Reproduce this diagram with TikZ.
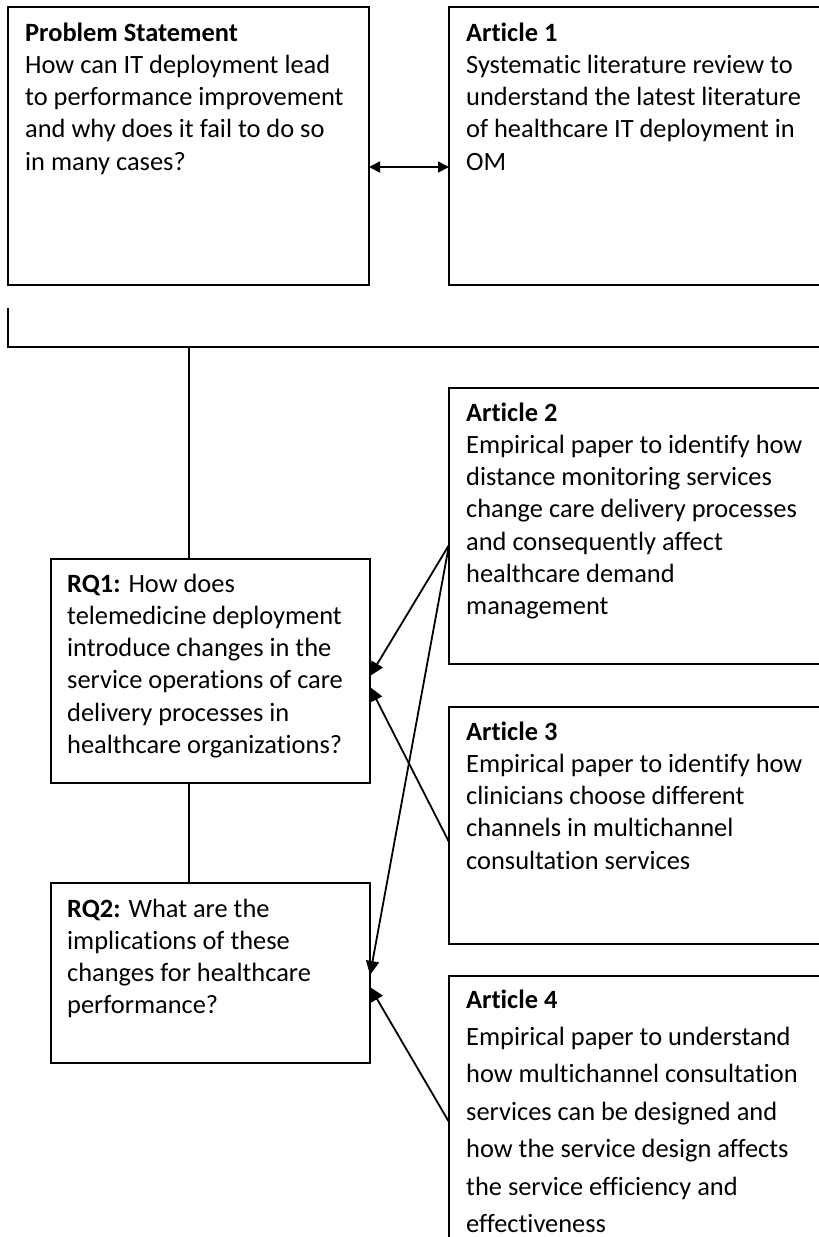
\documentclass[tikz,border=0pt]{standalone}
\usepackage{fontspec}
\setmainfont{Carlito}[Ligatures={NoCommon}]
\usetikzlibrary{arrows.meta}
\begin{document}
\begin{tikzpicture}[x=1pt,y=-1pt,
  box/.style={draw, line width=1.2pt, inner sep=0pt, outer sep=0pt, anchor=north west},
  % multi-line texts are placed by the baseline of their last line
  txt/.style={anchor=base west, align=left, inner sep=0pt, font=\fontsize{26.4}{32.3}\selectfont},
  wire/.style={line width=1.8pt},
  arr/.style={line width=1.8pt, -{Triangle[length=14pt,width=13pt]}},
  dbl/.style={line width=1.8pt, {Triangle[length=11pt,width=11pt]}-{Triangle[length=11pt,width=11pt]}}]
\useasboundingbox (0,0) rectangle (819,1237);

% frames
\node[box, minimum width=361pt, minimum height=278pt] (ps)  at (8,7) {};
\node[box, minimum width=380pt, minimum height=278pt] (a1)  at (449,7) {};
\node[box, minimum width=380pt, minimum height=276pt] (a2)  at (449,388) {};
\node[box, minimum width=380pt, minimum height=237pt] (a3)  at (449,707) {};
\node[box, minimum width=380pt, minimum height=300pt] (a4)  at (449,976) {};
\node[box, minimum width=319pt, minimum height=224pt] (rq1) at (51,559) {};
\node[box, minimum width=319pt, minimum height=180pt] (rq2) at (51,883) {};

% texts
\node[txt] (pst) at (25,170.2) {\textbf{Problem Statement}\\How can IT deployment lead\\to performance improvement\\and why does it fail to do so\\in many cases?};
\node[txt] (a1t) at (466,170.2) {\textbf{Article 1}\\Systematic literature review to\\understand the latest literature\\of healthcare IT deployment in\\OM};
\node[txt] (a2t) at (466,614.8) {\textbf{Article 2}\\Empirical paper to identify how\\distance monitoring services\\change care delivery processes\\and consequently affect\\healthcare demand\\management};
\node[txt] (rq1t) at (67,753.5) {\textbf{RQ1:} How does\\telemedicine deployment\\introduce changes in the\\service operations of care\\delivery processes in\\healthcare organizations?};
\node[txt] (a3t) at (466,869.2) {\textbf{Article 3}\\Empirical paper to identify how\\clinicians choose different\\channels in multichannel\\consultation services};
\node[txt] (rq2t) at (67,1013.9) {\textbf{RQ2:} What are the\\implications of these\\changes for healthcare\\performance?};
\node[txt, font=\fontsize{26.4}{37.4}\selectfont] (a4t) at (466,1232.4) {\textbf{Article 4}\\Empirical paper to understand\\how multichannel consultation\\services can be designed and\\how the service design affects\\the service efficiency and\\effectiveness};

% connectors
\coordinate (brk)  at (8,308);
\coordinate (rail) at (830,347);
\coordinate (junc) at (189,347);
\draw[wire] (brk) |- (rail);
\draw[wire] (junc) -- (junc |- rq1.north);
\draw[wire] (rq1.south -| junc) -- (rq2.north -| junc);
\draw[dbl] ([yshift=-21pt]ps.east) -- ([yshift=-21pt]a1.west);
\draw[arr] ([yshift=-19pt]a2.west) -- ([yshift=-5pt]rq1.east);
\draw[arr] ([yshift=-19pt]a2.west) -- ([yshift=-2pt]rq2.east);
\draw[arr] ([yshift=-16.5pt]a3.west) -- ([yshift=-16pt]rq1.east);
\draw[arr] ([yshift=4pt]a4.west) -- ([yshift=-14pt]rq2.east);
\end{tikzpicture}
\end{document}
